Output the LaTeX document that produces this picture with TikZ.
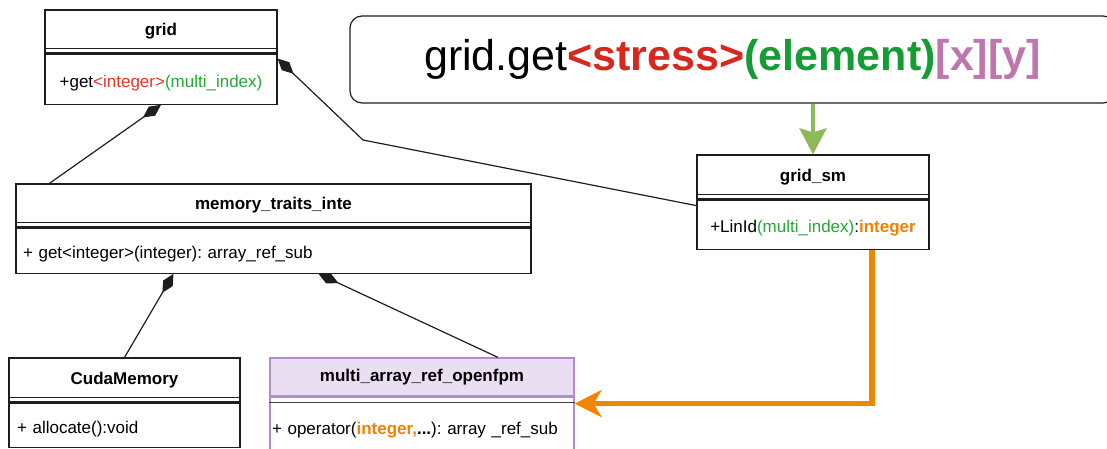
\documentclass[tikz,border=0pt]{standalone}
\usepackage{fontspec}
\setmainfont{Liberation Sans}
\usetikzlibrary{positioning}
\usetikzlibrary{arrows.meta}
\frenchspacing
\definecolor{boxline}{RGB}{30,30,30}
\definecolor{tred}{RGB}{232,52,40}
\definecolor{tgreen}{RGB}{38,168,52}
\definecolor{torange}{RGB}{240,130,0}
\definecolor{bigred}{RGB}{214,40,30}
\definecolor{biggreen}{RGB}{22,156,52}
\definecolor{bigpurple}{RGB}{190,118,172}
\definecolor{arrgreen}{RGB}{141,185,88}
\definecolor{arrorange}{RGB}{242,133,0}
\definecolor{purplefill}{RGB}{234,222,243}
\definecolor{purpleline}{RGB}{184,136,210}
\definecolor{sepline}{RGB}{64,64,64}

\begin{document}
\begin{tikzpicture}[x=1pt, y=-1pt, line width=1.2pt, draw=boxline,
    font=\fontsize{17}{20}\selectfont,
    hdr/.style={draw=boxline, inner sep=0pt, font=\fontsize{17}{20}\selectfont\bfseries},
    cbody/.style={draw=boxline, inner sep=0pt, text height=20pt, text depth=4pt},
    lbody/.style 2 args={draw=boxline, text width=#1, inner xsep=#2, inner ysep=0pt,
        text height=20pt, text depth=4pt, align=left},
    comp/.style={{Diamond[length=22pt,width=11pt]}-},
    greenarr/.style={draw=arrgreen, line width=3.6pt, -{Stealth[length=26pt,width=27pt,inset=4pt]}},
    orangearr/.style={draw=arrorange, line width=5.5pt, -{Stealth[length=27pt,width=27pt,inset=8pt]}}]
    \path[use as bounding box, clip] (0,0) rectangle (1107,448);

    \node[draw=boxline, rounded corners=12pt, minimum width=765pt, minimum height=87pt,
        font=\fontsize{43}{50}\selectfont] (call) at (732.5,59.5)
        {grid.get\textbf{\color{bigred}<stress>}\textbf{\color{biggreen}(element)}\textbf{\color{bigpurple}[x][y]}};

    % classes
    \node[hdr, minimum width=232pt, minimum height=43pt] (grid) at (161,31.5) {grid};
    \node[cbody, minimum width=232pt, minimum height=50pt, below=0pt of grid] (gridb)
        {+get\textcolor{tred}{<integer>}\textcolor{tgreen}{(multi\_index)}};
    \draw ([yshift=5pt]grid.south west) -- ([yshift=5pt]grid.south east);

    \node[hdr, minimum width=515pt, minimum height=43pt] (mem) at (273.5,205.5) {memory\_traits\_inte};
    \node[lbody={501pt}{7pt}, minimum height=45pt, below=0pt of mem] (memb)
        {+ get<integer>(integer): array\_ref\_sub};
    \draw ([yshift=5pt]mem.south west) -- ([yshift=5pt]mem.south east);

    \node[hdr, minimum width=231pt, minimum height=44pt] (cuda) at (124.5,380) {CudaMemory};
    \node[lbody={215pt}{8pt}, minimum height=44pt, below=0pt of cuda] (cudab)
        {+ allocate():void};
    \draw ([yshift=5pt]cuda.south west) -- ([yshift=5pt]cuda.south east);

    \node[hdr, draw=purpleline, fill=purplefill, minimum width=304pt, minimum height=38pt] (multi) at (422,377)
        {multi\_array\_ref\_openfpm};
    \node[lbody={300pt}{2pt}, draw=purpleline, text height=16pt, minimum height=62pt, below=0pt of multi] (multib)
        {+ operator(\textbf{\color{torange}integer,}\textbf{...}): array \_ref\_sub};
    \draw[draw=sepline, line width=1.5pt]
        ([yshift=-6pt]multi.south west) -- ([yshift=-6pt]multi.south east);

    \node[hdr, minimum width=232pt, minimum height=44pt] (sm) at (813,177) {grid\_sm};
    \node[cbody, minimum width=232pt, minimum height=49pt, below=0pt of sm] (smb)
        {+LinId\textcolor{tgreen}{(multi\_index)}:\textbf{\color{torange}integer}};
    \draw ([yshift=5pt]sm.south west) -- ([yshift=5pt]sm.south east);

    % compositions
    \coordinate (bend) at (363,140);
    \draw[comp] (gridb.south) -- ([xshift=34pt]mem.north west);
    \draw[comp] ([yshift=-5pt]gridb.north east) -- (bend) -- ([yshift=-6pt]smb.north west);
    \draw[comp] ([xshift=-100pt]memb.south) -- (cuda.north);
    \draw[comp] ([xshift=45pt]memb.south) -- ([xshift=76pt]multi.north);

    % flow
    \draw[greenarr] (call.south -| sm.north) -- (sm.north);
    \draw[orangearr] ([xshift=59pt]smb.south) |- ([yshift=-7pt]multi.south east);
\end{tikzpicture}
\end{document}
